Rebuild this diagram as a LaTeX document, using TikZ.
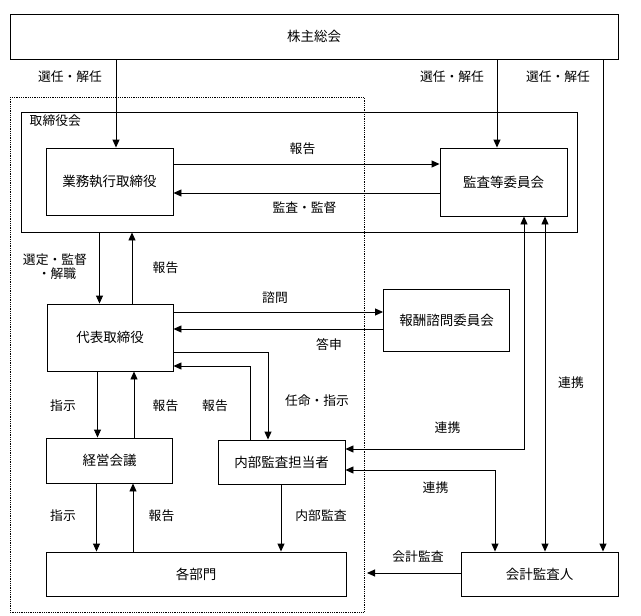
\documentclass[tikz,border=0pt]{standalone}
\usepackage{fontspec}
\setmainfont{Noto Sans CJK JP}
\usetikzlibrary{arrows.meta,positioning}

\begin{document}
\begin{tikzpicture}[x=1pt,y=-1pt,
    font=\fontsize{12.8}{14}\selectfont,
    box/.style={draw, line width=0.9pt, inner sep=0pt, font=\fontsize{13.5}{15}\selectfont},
    arr/.style={line width=0.9pt, -{Triangle[length=8pt,width=7pt]}},
    twoway/.style={line width=0.9pt, {Triangle[length=8pt,width=7pt]}-{Triangle[length=8pt,width=7pt]}},
    lbl/.style={inner sep=0pt}]
    \useasboundingbox (0,0) rectangle (641,616);

    % boxes
    \node[box, minimum width=608pt, minimum height=45pt] (soukai) at (314,36.5) {株主総会};
    \draw[line width=0.7pt, dash pattern=on 0.9pt off 0.9pt] (10,97) rectangle (364,612);
    \node[box, minimum width=556pt, minimum height=120pt] (torikai) at (299,172) {};
    \node[lbl, anchor=north west] (torikai-label) at ([xshift=9pt,yshift=-3pt]torikai.north west) {取締役会};
    \node[box, minimum width=127pt, minimum height=67pt] (gyomu) at (109.5,181.5) {業務執行取締役};
    \node[box, minimum width=127pt, minimum height=68pt] (kansa) at (503.5,182) {監査等委員会};
    \node[box, minimum width=126pt, minimum height=67pt] (daihyo) at (110,337.5) {代表取締役};
    \node[box, minimum width=126pt, minimum height=62pt] (hoshu) at (446.5,320) {報酬諮問委員会};
    \node[box, minimum width=126pt, minimum height=45pt] (keiei) at (109.5,460.5) {経営会議};
    \node[box, minimum width=127pt, minimum height=44pt] (naibu) at (281.5,462) {内部監査担当者};
    \node[box, minimum width=300pt, minimum height=44pt] (kakubu) at (196,574) {各部門};
    \node[box, minimum width=157pt, minimum height=44pt] (kaikei) at (539.5,574) {会計監査人};
    \coordinate (kaikei-end) at (367,573);

    % connectors
    \draw[arr] (soukai.south -| 116,0) -- (gyomu.north -| 116,0);
    \draw[arr] (soukai.south -| 497,0) -- (kansa.north -| 497,0);
    \draw[arr] (soukai.south -| 603,0) -- (kaikei.north -| 603,0);
    \draw[arr] (gyomu.east |- 0,164) -- (kansa.west |- 0,164);
    \draw[arr] (kansa.west |- 0,193) -- (gyomu.east |- 0,193);
    \draw[arr] (torikai.south -| 99.5,0) -- (daihyo.north -| 99.5,0);
    \draw[arr] (daihyo.north -| 132,0) -- (torikai.south -| 132,0);
    \draw[arr] (daihyo.east |- 0,312) -- (hoshu.west |- 0,312);
    \draw[arr] (hoshu.west |- 0,329) -- (daihyo.east |- 0,329);
    \draw[arr] (daihyo.east |- 0,352) -| (naibu.north -| 268,0);
    \draw[arr] (naibu.north -| 250,0) |- (daihyo.east |- 0,366);
    \draw[arr] (daihyo.south -| 97.5,0) -- (keiei.north -| 97.5,0);
    \draw[arr] (keiei.north -| 134,0) -- (daihyo.south -| 134,0);
    \draw[arr] (keiei.south -| 96.5,0) -- (kakubu.north -| 96.5,0);
    \draw[arr] (kakubu.north -| 133,0) -- (keiei.south -| 133,0);
    \draw[arr] (naibu.south -| 281,0) -- (kakubu.north -| 281,0);
    \draw[twoway] (kansa.south -| 524,0) |- (naibu.east |- 0,449);
    \draw[twoway] (kansa.south -| 545,0) -- (kaikei.north -| 545,0);
    \draw[twoway] (naibu.east |- 0,470) -| (kaikei.north -| 495,0);
    \draw[arr] (kaikei.west |- kaikei-end) -- (kaikei-end);

    % labels
    \node[lbl] (l-sennin1) at (70,77) {選任・解任};
    \node[lbl] (l-sennin2) at (452,77) {選任・解任};
    \node[lbl] (l-sennin3) at (558,77) {選任・解任};
    \node[lbl] (l-hokoku1) at (302.5,149) {報告};
    \node[lbl] (l-kansa) at (304.5,208) {監査・監督};
    \node[lbl] (l-sentei) at (55,260) {選定・監督};
    \node[lbl] (l-kaishoku) at (57,274) {・解職};
    \node[lbl] (l-hokoku2) at (165.5,268) {報告};
    \node[lbl] (l-shimon) at (275,298) {諮問};
    \node[lbl] (l-toshin) at (329,345) {答申};
    \node[lbl] (l-shiji1) at (63,406) {指示};
    \node[lbl] (l-hokoku3) at (165.5,406) {報告};
    \node[lbl] (l-hokoku4) at (215,406) {報告};
    \node[lbl] (l-ninmei) at (317,401) {任命・指示};
    \node[lbl] (l-renkei1) at (571,383) {連携};
    \node[lbl] (l-renkei2) at (447.5,428) {連携};
    \node[lbl] (l-renkei3) at (435.5,488) {連携};
    \node[lbl] (l-shiji2) at (63,516) {指示};
    \node[lbl] (l-hokoku5) at (161.5,516) {報告};
    \node[lbl] (l-naibu) at (321,516) {内部監査};
    \node[lbl] (l-kaikei) at (418,557) {会計監査};
\end{tikzpicture}
\end{document}
